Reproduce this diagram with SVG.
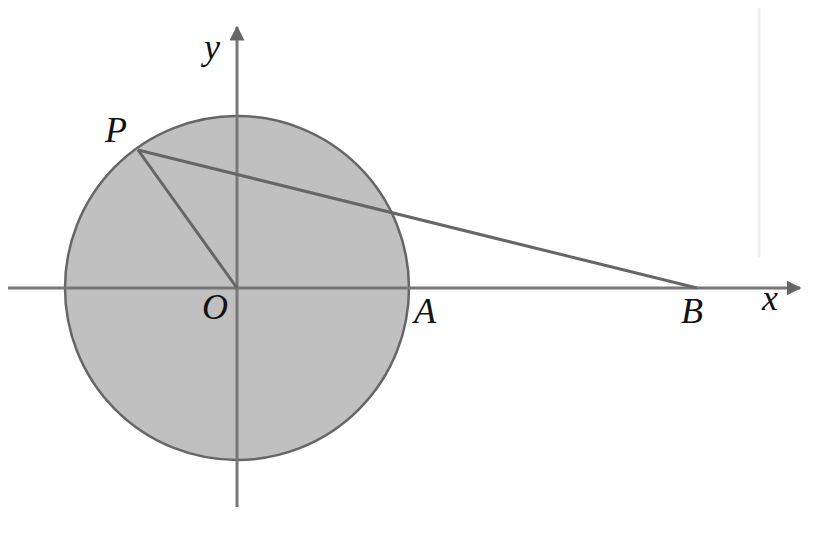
<svg xmlns="http://www.w3.org/2000/svg" width="821" height="543" viewBox="0 0 821 543">
<style>
.lbl{font-family:"Liberation Serif","DejaVu Serif",serif;font-style:italic;font-size:36px;fill:#111}
.ax{stroke:#777;stroke-width:3;fill:none}
.seg{stroke:#666;stroke-width:3;fill:none}
</style>
<defs>
<marker id="arr" viewBox="0 0 10 10" refX="9" refY="5" markerWidth="5" markerHeight="5" orient="auto" markerUnits="strokeWidth">
<path d="M0,0 L10,5 L0,10 Z" fill="#666"/>
</marker>
</defs>
<rect width="821" height="543" fill="#fff"/>
<line x1="759" y1="8" x2="759" y2="258" stroke="#f0f0f0" stroke-width="3"/>
<g id="circle">
<circle cx="237" cy="288" r="172" fill="#c0c0c0" stroke="#666" stroke-width="2.5"/>
</g>
<g id="connectors">
<line class="ax" x1="8" y1="288" x2="800" y2="288" marker-end="url(#arr)"/>
<line class="ax" x1="237" y1="507" x2="237" y2="27" marker-end="url(#arr)"/>
<line class="seg" x1="138" y1="150" x2="237" y2="288"/>
<line class="seg" x1="138" y1="150" x2="697" y2="288"/>
</g>
<g id="labels">
<text class="lbl" x="204" y="59">y</text>
<text class="lbl" x="105" y="142">P</text>
<text class="lbl" x="202" y="319">O</text>
<text class="lbl" x="414" y="323">A</text>
<text class="lbl" x="681" y="323">B</text>
<text class="lbl" x="762" y="310">x</text>
</g>
</svg>
